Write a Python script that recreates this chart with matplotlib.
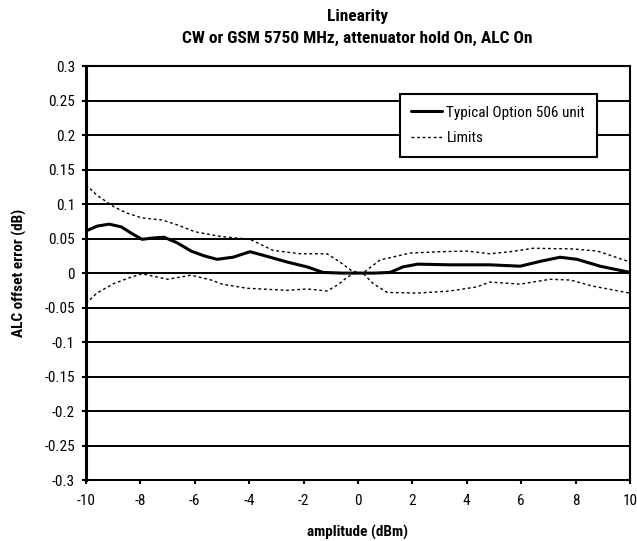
import matplotlib
matplotlib.use("Agg")
import matplotlib.pyplot as plt
from matplotlib import font_manager

# --- font choice: prefer a condensed sans like the reference ---
entries = font_manager.fontManager.ttflist
names = {f.name for f in entries}
stretch = 'normal'
if "Liberation Sans Narrow" in names:
    fam = "Liberation Sans Narrow"; scale = 1.0
elif "Roboto Condensed" in names:
    fam = "Roboto Condensed"; scale = 1.0
elif any(f.name == "DejaVu Sans" and str(f.stretch) in ('condensed', 'semi-condensed') for f in entries):
    fam = "DejaVu Sans"; stretch = 'condensed'; scale = 0.92
else:
    fam = "Liberation Sans"; scale = 0.92
plt.rcParams['font.family'] = [fam, 'DejaVu Sans']
plt.rcParams['font.stretch'] = stretch
plt.rcParams['axes.unicode_minus'] = False

# --- data ---
x_typ = [-10, -9.6, -9.15, -8.7, -8.3, -7.94, -7.5, -7.13, -6.65, -6.14, -5.66, -5.18, -4.6, -3.97,
         -3.5, -2.6, -1.87, -1.29, -0.6, 0, 0.6, 1.18, 1.65, 2.2, 3.38, 4.85, 5.96, 6.7, 7.43, 8.05,
         8.9, 10]
y_typ = [0.061, 0.068, 0.071, 0.067, 0.057, 0.049, 0.051, 0.052, 0.044, 0.032, 0.025, 0.020, 0.023,
         0.031, 0.026, 0.016, 0.009, 0.001, 0.0, 0.0, 0.0, 0.001, 0.009, 0.013, 0.012, 0.012, 0.010,
         0.017, 0.023, 0.020, 0.010, 0.001]

x_up = [-10, -9.6, -8.97, -8.5, -7.94, -7.2, -6.65, -6.0, -5.04, -3.97, -3.13, -2.13, -1.14, -0.66,
        -0.22, 0.18, 0.81, 1.91, 3.0, 4.0, 4.85, 5.59, 6.43, 7.9, 8.79, 9.26, 10]
y_up = [0.128, 0.113, 0.096, 0.087, 0.080, 0.077, 0.070, 0.060, 0.053, 0.049, 0.033, 0.028, 0.028,
        0.016, 0.003, 0.0, 0.019, 0.029, 0.031, 0.032, 0.028, 0.031, 0.036, 0.035, 0.032, 0.026, 0.016]

x_lo = [-10, -9.6, -8.97, -8.35, -7.94, -7.0, -6.14, -5.4, -5.0, -4.08, -2.6, -1.87, -1.14, -0.74,
        -0.4, -0.1, 0.18, 0.55, 1.07, 2.17, 3.38, 4.37, 4.85, 5.96, 7.06, 7.8, 8.64, 10]
y_lo = [-0.044, -0.029, -0.015, -0.006, -0.001, -0.009, -0.003, -0.010, -0.016, -0.022, -0.025,
        -0.023, -0.026, -0.017, -0.006, 0.0, 0.0, -0.015, -0.028, -0.029, -0.026, -0.020, -0.013,
        -0.016, -0.009, -0.010, -0.019, -0.029]

yticks = [0.3, 0.25, 0.2, 0.15, 0.1, 0.05, 0, -0.05, -0.1, -0.15, -0.2, -0.25, -0.3]
ylabels = ["0.3", "0.25", "0.2", "0.15", "0.1", "0.05", "0", "-0.05", "-0.1", "-0.15", "-0.2", "-0.25", "-0.3"]
xticks = [-10, -8, -6, -4, -2, 0, 2, 4, 6, 8, 10]

fs = 11.0 * scale
tfs = 12.5 * scale

fig = plt.figure(figsize=(6.37, 5.41), dpi=100)
ax = fig.add_axes([0.135, 0.1127, 0.854, 0.765])

for yv in yticks:
    ax.axhline(yv, color='black', lw=1.4, zorder=1)

ax.plot(x_typ, y_typ, color='black', lw=2.2, label='Typical Option 506 unit', zorder=3,
        solid_joinstyle='round', solid_capstyle='round')
ax.plot(x_up, y_up, color='black', lw=1.0, ls=(0, (2, 2)), label='Limits', zorder=3)
ax.plot(x_lo, y_lo, color='black', lw=1.0, ls=(0, (2, 2)), zorder=3)

ax.set_xlim(-10, 10)
ax.set_ylim(-0.3, 0.3)
ax.set_yticks(yticks)
ax.set_yticklabels(ylabels)
ax.set_xticks(xticks)
ax.set_xticklabels([str(v) for v in xticks])
ax.tick_params(direction='out', length=3, width=1.5, labelsize=fs, colors='black')
ax.tick_params(axis='x', pad=7)
ax.tick_params(axis='y', pad=5)
for s in ax.spines.values():
    s.set_linewidth(1.5)
ax.spines['left'].set_linewidth(2.2)

ax.set_xlabel('amplitude (dBm)', fontsize=fs, fontweight='bold', labelpad=12)
ax.set_ylabel('ALC offset error (dB)', fontsize=fs, fontweight='bold', labelpad=12)
fig.text(0.561, 0.969, 'Linearity', ha='center', va='center', fontsize=tfs, fontweight='bold')
fig.text(0.561, 0.929, 'CW or GSM 5750 MHz, attenuator hold On, ALC On', ha='center', va='center',
         fontsize=tfs, fontweight='bold')

leg = ax.legend(loc='upper left', bbox_to_anchor=(0.577, 0.932), fontsize=fs, frameon=True,
                fancybox=False, edgecolor='black', framealpha=1, borderpad=0.75,
                handlelength=2.0, handletextpad=0.3, labelspacing=0.75, borderaxespad=0)
leg.get_frame().set_linewidth(1.5)

fig.savefig('out.png', dpi=100, facecolor='white')
